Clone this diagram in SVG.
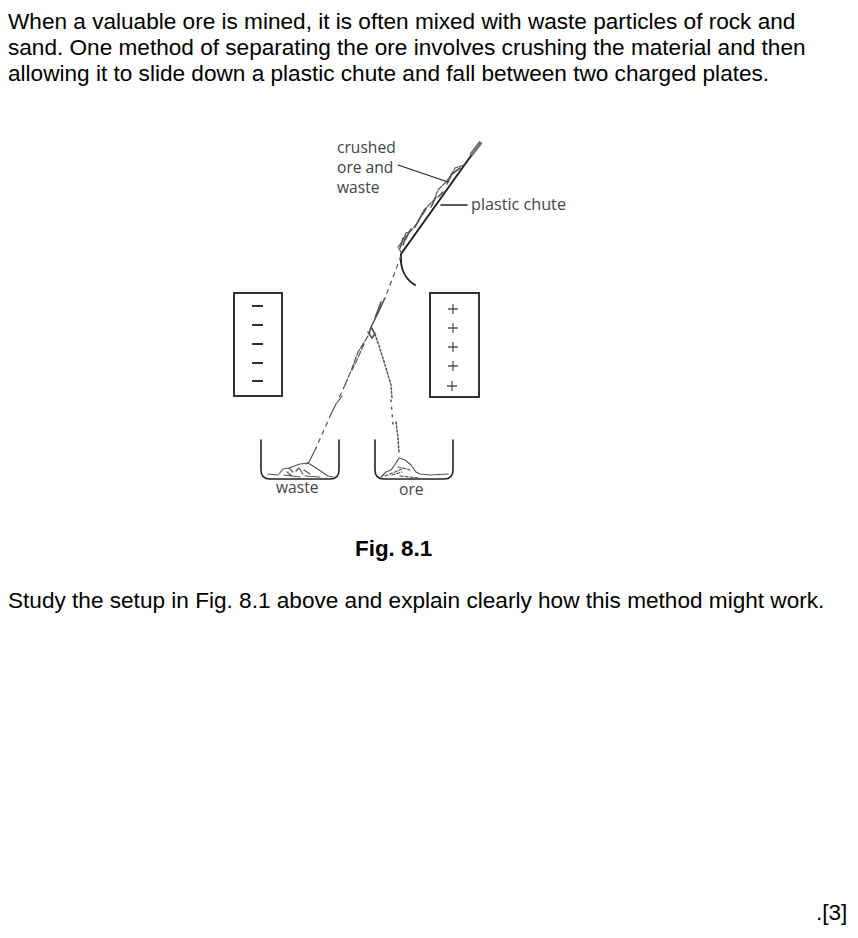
<svg xmlns="http://www.w3.org/2000/svg" width="858" height="938" viewBox="0 0 858 938">
<style>
.t{font-family:"Liberation Sans",Arial,sans-serif;font-size:22.6px;fill:#000}
.b{font-weight:bold;font-size:22.4px}
.l{font-family:"Open Sans","Noto Sans",sans-serif;font-size:15.6px;fill:#444}
.lw{font-size:16.2px}
.ln{fill:none;stroke:#222;stroke-width:1.6;stroke-linecap:round;stroke-linejoin:round}
.hv{stroke-width:2}
.th{stroke-width:1.1}
.box{fill:none;stroke:#2a2a2a;stroke-width:1.9}
.s{fill:none;stroke:#333;stroke-width:2}
.sym{fill:none;stroke:#555;stroke-width:1.3}
.p{fill:none;stroke:#555;stroke-width:1.2;stroke-linecap:round;stroke-linejoin:round}
.p2{stroke-width:1.6}
.d{fill:none;stroke:#555;stroke-width:1.2;stroke-dasharray:4 5;stroke-linecap:round}
.dt{stroke-width:1.5;stroke-dasharray:1.5 6}
.fine{stroke-width:1.5;stroke-dasharray:2 2}
</style>
<rect width="858" height="938" fill="#fff"/>
<g id="intro">
<text class="t" x="8" y="29">When a valuable ore is mined, it is often mixed with waste particles of rock and</text>
<text class="t" x="8" y="55">sand. One method of separating the ore involves crushing the material and then</text>
<text class="t" x="8" y="81">allowing it to slide down a plastic chute and fall between two charged plates.</text>
</g>
<g id="chute">
<path class="ln hv" d="M478 146L401 254"/>
<path fill="none" stroke="#777" stroke-width="4" d="M471 155L481 142"/>
<path class="ln hv" d="M401 255C400 268 405 279 415 285"/>
<text class="l lw" x="471" y="210">plastic chute</text>
</g>
<g id="material">
<text class="l" x="337" y="153">crushed</text>
<text class="l" x="337" y="173">ore and</text>
<text class="l" x="337" y="193">waste</text>
<path class="p" stroke-dasharray="5 1.5" d="M464 165L455 168L449 178L445 183L438 190L434 200L428 206L424 210L418 222L411 231L406 233L402 242L398 247L401 252"/>
<path class="p p2" d="M460 168L452 174L447 184M443 192L438 197M436 197L431 207M426 209L420 218L415 227M411 229L405 240M403 238L400 248M406 236L403 245"/>
</g>
<g id="plate-negative">
<rect class="box" x="234" y="293" width="48" height="103"/>
<path class="s" d="M252 306H263M252 325H263M252 344H263M252 363H263M252 381H263"/>
</g>
<g id="plate-positive">
<rect class="box" x="430" y="293" width="49" height="104"/>
<path class="sym" d="M448 309H458M453 304V314M448 328H458M453 323V333M448 347H458M453 342V352M448 366H458M453 361V371M447 386H457M452 381V391"/>
</g>
<g id="streams">
<path class="d" d="M401 256L385 298"/>
<path class="p p2" d="M385 298L377 315L371 327L369 334M381 302L375 318M371 327L375 334L372 338L368 332"/>
<path class="p" stroke-dasharray="6 2" d="M368 336L358 352L351 371L345 385M364 344L356 362L352 370"/>
<path class="d" d="M345 385L338 400"/>
<path class="p" d="M342 396L336 404L331 414"/>
<path class="d" d="M331 414L316 448"/>
<path class="p" d="M316 448L309 462L306 464"/>
<path class="p fine" d="M375 334L381 352L386 368L391 385L392 398"/>
<path class="d dt" d="M391 400L393 425"/>
<path class="p fine" d="M396 422L398 438L399 453"/>
</g>
<g id="bin-waste">
<path class="ln" d="M261 440V470Q261 479 270 479H330Q339 479 339 470V440"/>
<path class="p" d="M268 474L278 475M279 474L283 469L289 468L293 472M289 468L300 464L308 463L316 468L322 472L328 476L333 477M287 472L292 476M296 471L299 468L303 474M304 470L310 474M284 475L300 477M305 476L320 477"/>
<text class="l" x="276" y="493">waste</text>
</g>
<g id="bin-ore">
<path class="ln" d="M375 440V470Q375 479 384 479H444Q453 479 453 470V440"/>
<path class="p" d="M381 477L386 472L391 470L396 463L399 458L405 460L411 465L416 472L420 474L430 475L448 474"/>
<path class="p" stroke-dasharray="3 2" d="M385 476L395 472L404 468M392 475L402 472M398 467L410 470M400 476L420 478"/>
<text class="l" x="399" y="495">ore</text>
</g>
<g id="leaders">
<path class="ln th" d="M398 165L448 182"/>
<path class="ln" d="M441 205H467"/>
</g>
<g id="caption">
<text class="t b" x="355" y="556">Fig. 8.1</text>
<text class="t" x="8" y="608">Study the setup in Fig. 8.1 above and explain clearly how this method might work.</text>
<text class="t" x="816" y="920">.[3]</text>
</g>
</svg>
